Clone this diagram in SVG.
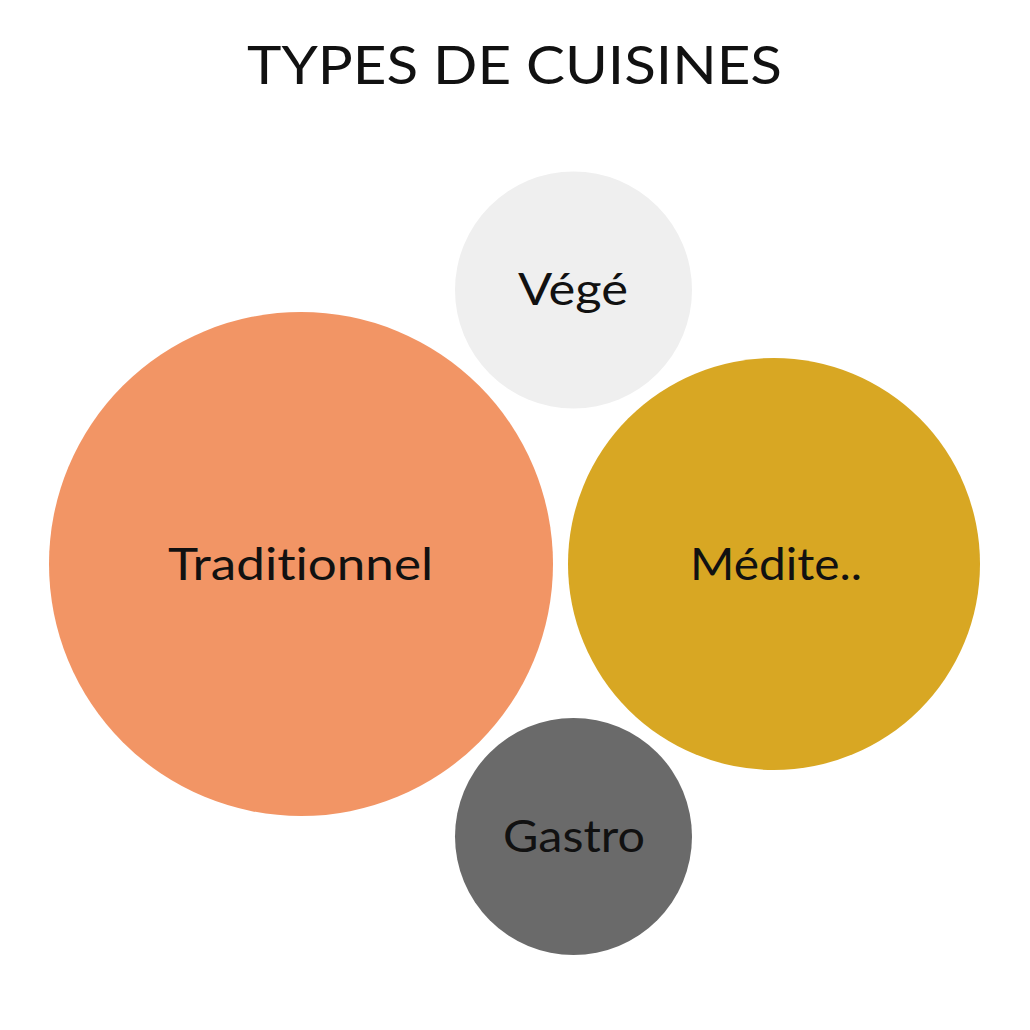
<svg xmlns="http://www.w3.org/2000/svg" width="1030" height="1030" viewBox="0 0 1030 1030">
<style>
text{font-family:"Lato","Noto Sans","Liberation Sans",sans-serif;fill:#111;text-anchor:middle;font-variant-ligatures:none;font-weight:400}
.title{font-size:53px}
.lbl{font-size:45px}
</style>
<rect width="1030" height="1030" fill="#fff"/>
<text class="title" x="514.5" y="84" textLength="535" lengthAdjust="spacingAndGlyphs">TYPES DE CUISINES</text>
<g id="node-vege"><circle cx="573.5" cy="290" r="118.5" fill="#efefef"/><text class="lbl" x="573" y="305" textLength="110" lengthAdjust="spacingAndGlyphs">Végé</text></g>
<g id="node-traditionnel"><circle cx="301" cy="564" r="252" fill="#f29565"/><text class="lbl" x="300.5" y="580" textLength="265" lengthAdjust="spacingAndGlyphs">Traditionnel</text></g>
<g id="node-medite"><circle cx="774" cy="564" r="206" fill="#d8a723"/><text class="lbl" x="776" y="580" textLength="172" lengthAdjust="spacingAndGlyphs">Médite..</text></g>
<g id="node-gastro"><circle cx="573.5" cy="836.5" r="118.5" fill="#6a6a6a"/><text class="lbl" x="574" y="852" textLength="142" lengthAdjust="spacingAndGlyphs">Gastro</text></g>
<g id="connectors"/>
</svg>
